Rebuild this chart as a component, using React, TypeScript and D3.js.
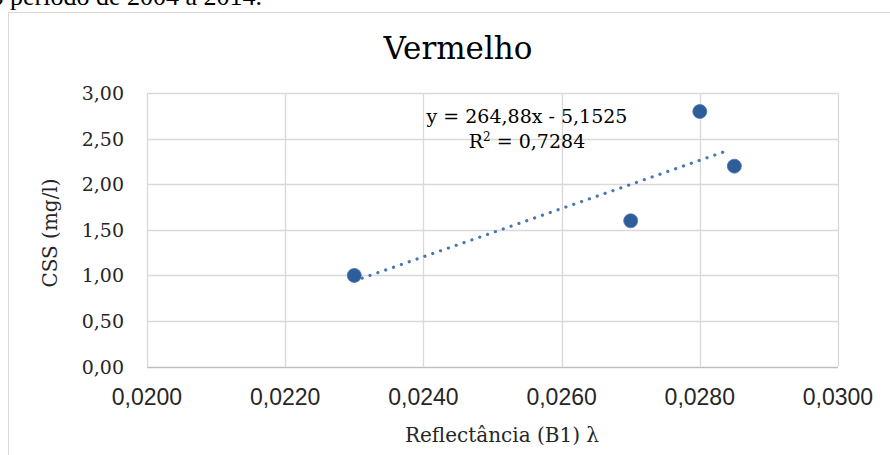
import { useRef, useEffect } from 'react';
import * as d3 from 'd3';

// Reflectance (B1) vs CSS samples
const reflectance = [0.023, 0.027, 0.028, 0.0285];
const cssValues = [1.0, 1.6, 2.8, 2.2];

const xTicks = [0.02, 0.022, 0.024, 0.026, 0.028, 0.03];
const yTicks = [0, 0.5, 1, 1.5, 2, 2.5, 3];

// Excel linear trendline label
const trendSlope = 264.88;
const trendIntercept = -5.1525;
const trendLabel = 'y = 264,88x - 5,1525';
const r2Label = '0,7284';

const chartTitle = 'Vermelho';
const xTitle = 'Reflectância (B1) λ';
const yTitle = 'CSS (mg/l)';
const captionText = 'o período de 2004 a 2014.';

const W = 890;
const H = 455;

export default function App() {
  const svgRef = useRef<SVGSVGElement>(null);

  useEffect(() => {
    if (!svgRef.current) return;
    const svg = d3.select(svgRef.current);
    svg.selectAll('*').remove();

    const serif = '"DejaVu Serif", serif';
    const sans = '"Liberation Sans", Arial, sans-serif';
    const grid = '#d9d9d9';

    const locale = d3.formatLocale({ decimal: ',', thousands: '.', grouping: [3], currency: ['R$', ''] });
    const fx = locale.format('.4f');
    const fy = locale.format('.2f');

    const plot = { left: 147, right: 838, top: 93.3, bottom: 366.5 };

    const x = d3.scaleLinear().domain([0.02, 0.03]).range([plot.left, plot.right]);
    const y = d3.scaleLinear().domain([0, 3]).range([plot.bottom, plot.top]);

    // page caption cut off above the chart
    svg.append('text')
      .attr('x', -9.5)
      .attr('y', 5)
      .attr('font-family', '"Liberation Serif", serif')
      .attr('font-size', 26)
      .attr('fill', '#000')
      .text(captionText);

    // chart frame
    svg.append('rect')
      .attr('x', 8.5)
      .attr('y', 12.5)
      .attr('width', 1000)
      .attr('height', 600)
      .attr('fill', '#fff')
      .attr('stroke', grid)
      .attr('stroke-width', 1);

    // title
    svg.append('text')
      .attr('x', 458)
      .attr('y', 59)
      .attr('text-anchor', 'middle')
      .attr('font-family', serif)
      .attr('font-size', 31)
      .attr('fill', '#000')
      .text(chartTitle);

    const g = svg.append('g');

    // horizontal gridlines
    g.selectAll('.hgrid')
      .data(yTicks.filter((t) => t > 0))
      .enter()
      .append('line')
      .attr('x1', plot.left)
      .attr('x2', plot.right)
      .attr('y1', (d) => Math.round(y(d)) + 0.5)
      .attr('y2', (d) => Math.round(y(d)) + 0.5)
      .attr('stroke', grid)
      .attr('stroke-width', 1.3);

    // vertical gridlines
    g.selectAll('.vgrid')
      .data(xTicks)
      .enter()
      .append('line')
      .attr('x1', (d) => Math.round(x(d)) + 0.5)
      .attr('x2', (d) => Math.round(x(d)) + 0.5)
      .attr('y1', plot.top)
      .attr('y2', plot.bottom)
      .attr('stroke', grid)
      .attr('stroke-width', 1.3);

    // x axis line
    g.append('line')
      .attr('x1', plot.left)
      .attr('x2', plot.right)
      .attr('y1', Math.round(y(0)) + 0.5)
      .attr('y2', Math.round(y(0)) + 0.5)
      .attr('stroke', '#bfbfbf')
      .attr('stroke-width', 1.3);

    // y tick labels
    g.selectAll('.ytick')
      .data(yTicks)
      .enter()
      .append('text')
      .attr('x', 124)
      .attr('y', (d) => y(d) + 7)
      .attr('text-anchor', 'end')
      .attr('font-family', serif)
      .attr('font-size', 19)
      .attr('fill', '#262626')
      .text((d) => fy(d));

    // x tick labels
    g.selectAll('.xtick')
      .data(xTicks)
      .enter()
      .append('text')
      .attr('x', (d) => x(d))
      .attr('y', y(0) + 38)
      .attr('text-anchor', 'middle')
      .attr('font-family', sans)
      .attr('font-size', 23)
      .attr('fill', '#262626')
      .text((d) => fx(d));

    // axis titles
    g.append('text')
      .attr('x', 502)
      .attr('y', 442)
      .attr('text-anchor', 'middle')
      .attr('font-family', serif)
      .attr('font-size', 20)
      .attr('fill', '#262626')
      .text(xTitle);

    g.append('text')
      .attr('transform', `translate(57,233) rotate(-90)`)
      .attr('text-anchor', 'middle')
      .attr('font-family', serif)
      .attr('font-size', 20)
      .attr('fill', '#262626')
      .text(yTitle);

    // trendline
    const xMin = d3.min(reflectance) as number;
    const xMax = d3.max(reflectance) as number;
    g.append('line')
      .attr('x1', x(xMin))
      .attr('y1', y(trendSlope * xMin + trendIntercept))
      .attr('x2', x(xMax - 0.0001))
      .attr('y2', y(trendSlope * (xMax - 0.0001) + trendIntercept))
      .attr('stroke', '#4a77b4')
      .attr('stroke-width', 3.2)
      .attr('stroke-linecap', 'round')
      .attr('stroke-dasharray', '0.1 8.2');

    // data points
    g.selectAll('.pt')
      .data(reflectance.map((r, i) => ({ r, c: cssValues[i] })))
      .enter()
      .append('circle')
      .attr('cx', (d) => x(d.r))
      .attr('cy', (d) => y(d.c))
      .attr('r', 7)
      .attr('fill', '#2e5d99')
      .attr('stroke', '#4a77b4')
      .attr('stroke-width', 0.8);

    // equation labels
    g.append('text')
      .attr('x', 527)
      .attr('y', 123)
      .attr('text-anchor', 'middle')
      .attr('font-family', serif)
      .attr('font-size', 19)
      .attr('fill', '#000')
      .text(trendLabel);

    const r2 = g.append('text')
      .attr('x', 527)
      .attr('y', 148)
      .attr('text-anchor', 'middle')
      .attr('font-family', serif)
      .attr('font-size', 19)
      .attr('fill', '#000');
    r2.append('tspan').text('R');
    r2.append('tspan').attr('font-size', 12).attr('dy', -7).text('2');
    r2.append('tspan').attr('dy', 7).text(` = ${r2Label}`);
  }, []);

  return (
    <div style={{ position: 'absolute', left: 0, top: 0, width: W, height: H, overflow: 'hidden' }}>
      <svg
        ref={svgRef}
        width={W}
        height={H}
        style={{ display: 'block', background: '#fff' }}
        role="img"
        aria-label="Vermelho: CSS vs reflectância"
      />
    </div>
  );
}
